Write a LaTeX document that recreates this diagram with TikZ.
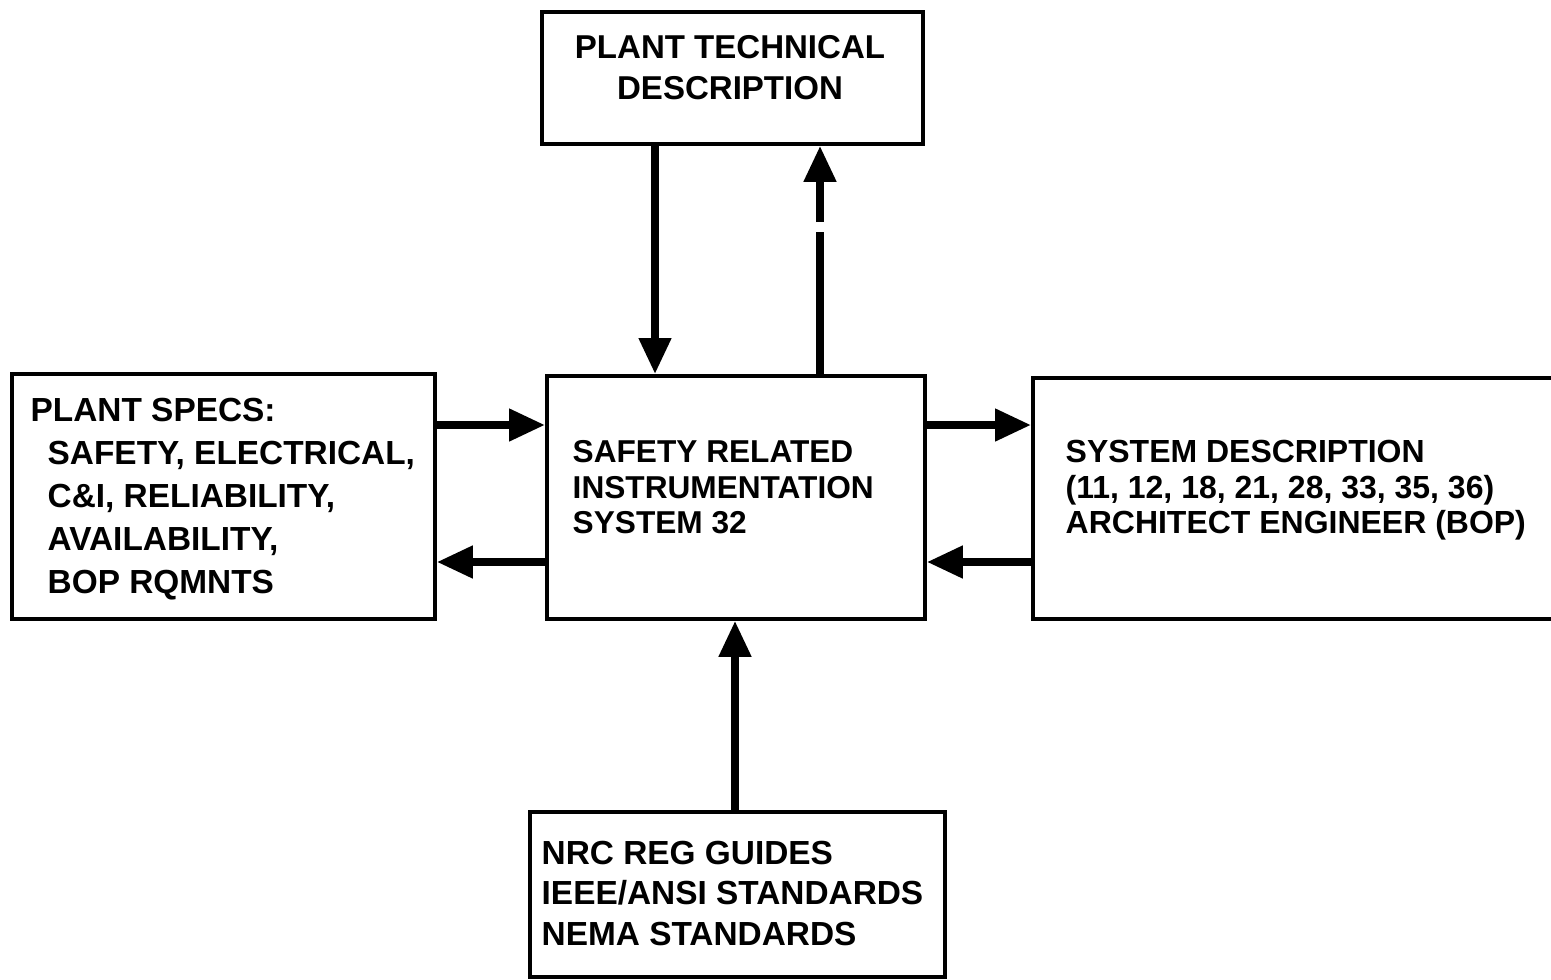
\documentclass[tikz,border=0pt]{standalone}
\usepackage{fontspec}
\setmainfont{Liberation Sans}
\usetikzlibrary{arrows.meta}

\tikzset{
  box/.style={draw, line width=1.1pt, inner sep=0pt, anchor=north west},
  lbl/.style={inner sep=0pt, align=left},
  arrow/.style={line width=2.2pt, -{Triangle[length=0.36cm, width=0.31cm]}}
}
\newcommand{\lblfont}[2]{\bfseries\fontsize{#1}{#2}\selectfont}

\begin{document}
\begin{tikzpicture}
\useasboundingbox (0,0) rectangle (15.51,-9.79);
% the five blocks
\node[box, minimum width=3.81cm, minimum height=1.32cm] (ptd) at (5.40,-0.10) {};
\node[box, minimum width=3.78cm, minimum height=2.43cm] (sri) at (5.45,-3.74) {};
\node[box, minimum width=4.23cm, minimum height=2.45cm] (spec) at (0.10,-3.72) {};
\node[box, minimum width=5.69cm, minimum height=2.41cm] (sysd) at (10.31,-3.76) {};
\node[box, minimum width=4.15cm, minimum height=1.65cm] (nrc) at (5.28,-8.10) {};

% block texts (placed by the baseline of their last line)
\node[lbl, align=center, anchor=base, font=\lblfont{9.4}{11.95}] (ptdtext) at (7.30,-1.00)
  {PLANT TECHNICAL\\DESCRIPTION};
\node[lbl, anchor=base west, font=\lblfont{9}{9.96}] (sritext) at (5.72,-5.33)
  {SAFETY RELATED\\INSTRUMENTATION\\SYSTEM 32};
\node[lbl, anchor=base west, font=\lblfont{9.5}{12.2}] (spectext) at (0.30,-5.93)
  {PLANT SPECS:\\\hspace*{0.17cm}SAFETY, ELECTRICAL,\\\hspace*{0.17cm}C\&I, RELIABILITY,\\
   \hspace*{0.17cm}AVAILABILITY,\\\hspace*{0.17cm}BOP RQMNTS};
\node[lbl, anchor=base west, font=\lblfont{9.1}{9.96}] (sysdtext) at (10.65,-5.33)
  {SYSTEM DESCRIPTION\\(11, 12, 18, 21, 28, 33, 35, 36)\\ARCHITECT ENGINEER (BOP)};
\node[lbl, anchor=base west, font=\lblfont{9.5}{11.4}] (nrctext) at (5.41,-9.45)
  {NRC REG GUIDES\\IEEE/ANSI STANDARDS\\NEMA STANDARDS};

% flows
\draw[arrow] (ptd.south -| 6.55,0) -- (sri.north -| 6.55,0);
\draw[arrow, dash pattern=on 1.42cm off 0.10cm on 3cm] (sri.north -| 8.20,0) -- (ptd.south -| 8.20,0);
\draw[arrow] (nrc.north -| 7.35,0) -- (sri.south -| 7.35,0);
\foreach \a/\b in {spec/sri, sri/sysd} {
  \draw[arrow] (\a.east |- 0,-4.25) -- (\b.west |- 0,-4.25);
  \draw[arrow] (\b.west |- 0,-5.62) -- (\a.east |- 0,-5.62);
}
\end{tikzpicture}
\end{document}
